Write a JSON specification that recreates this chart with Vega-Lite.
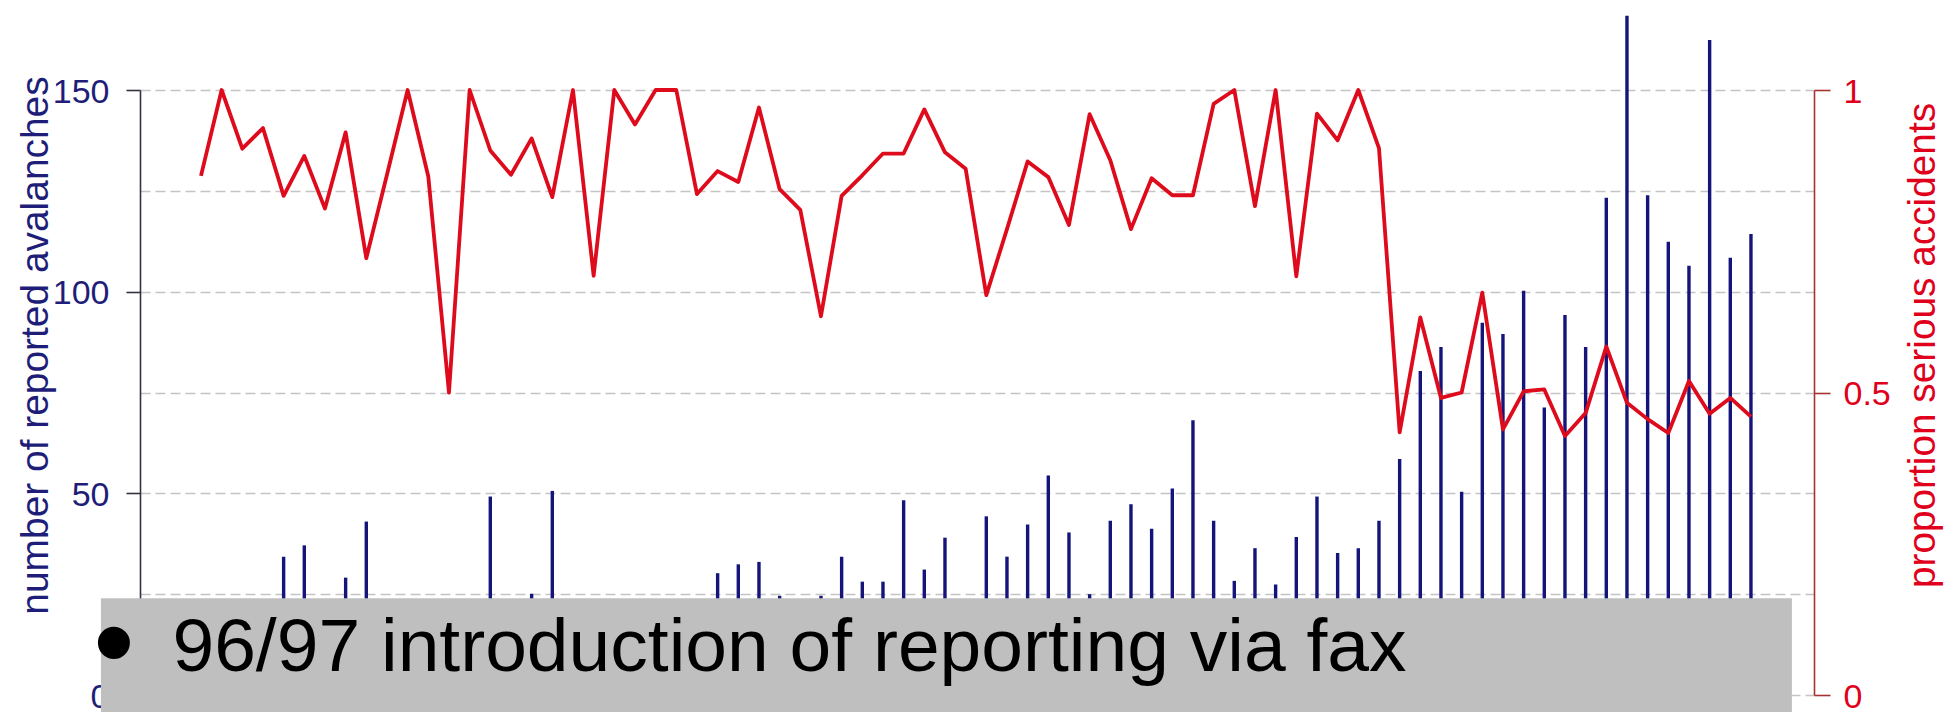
{
  "$schema": "https://vega.github.io/schema/vega-lite/v6.json",
  "width": 1674,
  "height": 605,
  "autosize": "none",
  "padding": {"left": 140, "top": 90, "right": 136, "bottom": 17},
  "background": "white",
  "config": {
    "view": {"stroke": null},
    "axis": {"labelFont": "Liberation Sans", "titleFont": "Liberation Sans", "titleFontWeight": "normal", "labelOverlap": false}
  },
  "data": {
    "values": [
      {"year": 1939, "count": 12, "prop": 0.858},
      {"year": 1940, "count": 8, "prop": 1.0},
      {"year": 1941, "count": 15, "prop": 0.903},
      {"year": 1942, "count": 16, "prop": 0.937},
      {"year": 1943, "count": 34.3, "prop": 0.825},
      {"year": 1944, "count": 37.1, "prop": 0.891},
      {"year": 1945, "count": 18, "prop": 0.804},
      {"year": 1946, "count": 29.1, "prop": 0.93},
      {"year": 1947, "count": 43.0, "prop": 0.722},
      {"year": 1948, "count": 20, "prop": 0.86},
      {"year": 1949, "count": 10, "prop": 1.0},
      {"year": 1950, "count": 14, "prop": 0.857},
      {"year": 1951, "count": 6, "prop": 0.5},
      {"year": 1952, "count": 12, "prop": 1.0},
      {"year": 1953, "count": 49.2, "prop": 0.9},
      {"year": 1954, "count": 21, "prop": 0.86},
      {"year": 1955, "count": 25.1, "prop": 0.92},
      {"year": 1956, "count": 50.6, "prop": 0.823},
      {"year": 1957, "count": 16, "prop": 1.0},
      {"year": 1958, "count": 14, "prop": 0.693},
      {"year": 1959, "count": 12, "prop": 1.0},
      {"year": 1960, "count": 18, "prop": 0.943},
      {"year": 1961, "count": 10, "prop": 1.0},
      {"year": 1962, "count": 9, "prop": 1.0},
      {"year": 1963, "count": 19, "prop": 0.828},
      {"year": 1964, "count": 30.2, "prop": 0.866},
      {"year": 1965, "count": 32.4, "prop": 0.848},
      {"year": 1966, "count": 33.0, "prop": 0.971},
      {"year": 1967, "count": 24.6, "prop": 0.836},
      {"year": 1968, "count": 22, "prop": 0.802},
      {"year": 1969, "count": 24.6, "prop": 0.626},
      {"year": 1970, "count": 34.3, "prop": 0.825},
      {"year": 1971, "count": 28.1, "prop": 0.859},
      {"year": 1972, "count": 28.1, "prop": 0.895},
      {"year": 1973, "count": 48.3, "prop": 0.895},
      {"year": 1974, "count": 31.1, "prop": 0.968},
      {"year": 1975, "count": 39.0, "prop": 0.897},
      {"year": 1976, "count": 21, "prop": 0.87},
      {"year": 1977, "count": 44.3, "prop": 0.661},
      {"year": 1978, "count": 34.3, "prop": 0.77},
      {"year": 1979, "count": 42.3, "prop": 0.882},
      {"year": 1980, "count": 54.4, "prop": 0.856},
      {"year": 1981, "count": 40.3, "prop": 0.777},
      {"year": 1982, "count": 25, "prop": 0.96},
      {"year": 1983, "count": 43.2, "prop": 0.884},
      {"year": 1984, "count": 47.3, "prop": 0.77},
      {"year": 1985, "count": 41.2, "prop": 0.854},
      {"year": 1986, "count": 51.2, "prop": 0.826},
      {"year": 1987, "count": 68.1, "prop": 0.826},
      {"year": 1988, "count": 43.2, "prop": 0.977},
      {"year": 1989, "count": 28.3, "prop": 1.0},
      {"year": 1990, "count": 36.4, "prop": 0.808},
      {"year": 1991, "count": 27.4, "prop": 1.0},
      {"year": 1992, "count": 39.2, "prop": 0.692},
      {"year": 1993, "count": 49.2, "prop": 0.961},
      {"year": 1994, "count": 35.2, "prop": 0.917},
      {"year": 1995, "count": 36.4, "prop": 1.0},
      {"year": 1996, "count": 43.2, "prop": 0.904},
      {"year": 1997, "count": 58.5, "prop": 0.434},
      {"year": 1998, "count": 80.3, "prop": 0.624},
      {"year": 1999, "count": 86.3, "prop": 0.491},
      {"year": 2000, "count": 50.4, "prop": 0.5},
      {"year": 2001, "count": 92.3, "prop": 0.665},
      {"year": 2002, "count": 89.5, "prop": 0.439},
      {"year": 2003, "count": 100.2, "prop": 0.502},
      {"year": 2004, "count": 71.3, "prop": 0.505},
      {"year": 2005, "count": 94.2, "prop": 0.428},
      {"year": 2006, "count": 86.3, "prop": 0.466},
      {"year": 2007, "count": 123.3, "prop": 0.576},
      {"year": 2008, "count": 168.4, "prop": 0.483},
      {"year": 2009, "count": 123.9, "prop": 0.456},
      {"year": 2010, "count": 112.4, "prop": 0.433},
      {"year": 2011, "count": 106.4, "prop": 0.519},
      {"year": 2012, "count": 162.4, "prop": 0.465},
      {"year": 2013, "count": 108.4, "prop": 0.491},
      {"year": 2014, "count": 114.3, "prop": 0.46}
    ]
  },
  "layer": [
    {
      "mark": {"type": "rule", "color": "#14147a", "strokeWidth": 3.4},
      "encoding": {
        "x": {"field": "year", "type": "quantitative", "scale": {"domain": [1936.05, 2017.05], "nice": false, "zero": false}, "axis": null},
        "y": {
          "field": "count", "type": "quantitative",
          "scale": {"domain": [0, 150], "nice": false},
          "axis": {
            "orient": "left",
            "values": [0, 25, 50, 75, 100, 125, 150],
            "format": "d",
            "labelExpr": "datum.value % 50 === 0 ? datum.label : ''",
            "tickOpacity": {"condition": {"test": "datum.value % 50 !== 0", "value": 0}, "value": 1},
            "grid": true,
            "gridDash": [10, 5],
            "gridColor": "#c4c4c4",
            "gridWidth": 1.4,
            "domainColor": "#333340",
            "domainWidth": 1.6,
            "tickColor": "#333340",
            "tickWidth": 1.6,
            "tickSize": 14,
            "labelPadding": 17,
            "labelOffset": 2,
            "labelFontSize": 34,
            "labelColor": "#1e1e78",
            "title": "number of reported avalanches",
            "titleColor": "#1e1e78",
            "titleFontSize": 38.9,
            "titleAngle": 270,
            "titleAlign": "center",
            "titleBaseline": "alphabetic",
            "titleX": -93,
            "titleY": 255
          }
        },
        "y2": {"datum": 0}
      }
    },
    {
      "mark": {"type": "line", "color": "#de0b1c", "strokeWidth": 3.8, "strokeJoin": "round"},
      "encoding": {
        "x": {"field": "year", "type": "quantitative", "scale": {"domain": [1936.05, 2017.05], "nice": false, "zero": false}, "axis": null},
        "y": {
          "field": "prop", "type": "quantitative",
          "scale": {"domain": [0, 1], "nice": false},
          "axis": {
            "orient": "right",
            "values": [0, 0.5, 1],
            "format": "~g",
            "grid": false,
            "domainColor": "#a83232",
            "domainWidth": 1.6,
            "tickColor": "#a83232",
            "tickWidth": 1.6,
            "tickSize": 16,
            "labelPadding": 13,
            "labelOffset": 2,
            "labelFontSize": 34,
            "labelColor": "#e0001b",
            "title": "proportion serious accidents",
            "titleColor": "#e0001b",
            "titleFontSize": 38.8,
            "titleAngle": 270,
            "titleAlign": "center",
            "titleBaseline": "alphabetic",
            "titleX": 120,
            "titleY": 255
          }
        }
      }
    },
    {
      "data": {"values": [{"note": "96/97 introduction of reporting via fax"}]},
      "mark": {"type": "rect", "color": "#bfbfbf"},
      "encoding": {
        "x": {"datum": 1934.16, "type": "quantitative", "scale": {"domain": [1936.05, 2017.05], "nice": false, "zero": false}, "axis": null},
        "x2": {"datum": 2015.98},
        "y": {"datum": 24.0, "type": "quantitative", "scale": {"domain": [0, 150], "nice": false}, "axis": null},
        "y2": {"datum": -8}
      }
    },
    {
      "data": {"values": [{"note": "•"}]},
      "mark": {"type": "text", "font": "Liberation Sans", "fontSize": 118, "color": "#000000", "align": "center", "baseline": "alphabetic"},
      "encoding": {
        "x": {"datum": 1934.79, "type": "quantitative", "scale": {"domain": [1936.05, 2017.05], "nice": false, "zero": false}, "axis": null},
        "y": {"datum": 3.3, "type": "quantitative", "scale": {"domain": [0, 150], "nice": false}, "axis": null},
        "text": {"field": "note"}
      }
    },
    {
      "data": {"values": [{"note": "96/97 introduction of reporting via fax"}]},
      "mark": {"type": "text", "font": "Liberation Sans", "fontSize": 75, "color": "#000000", "align": "left", "baseline": "alphabetic"},
      "encoding": {
        "x": {"datum": 1937.62, "type": "quantitative", "scale": {"domain": [1936.05, 2017.05], "nice": false, "zero": false}, "axis": null},
        "y": {"datum": 6.0, "type": "quantitative", "scale": {"domain": [0, 150], "nice": false}, "axis": null},
        "text": {"field": "note"}
      }
    }
  ],
  "resolve": {"scale": {"y": "independent"}}
}
